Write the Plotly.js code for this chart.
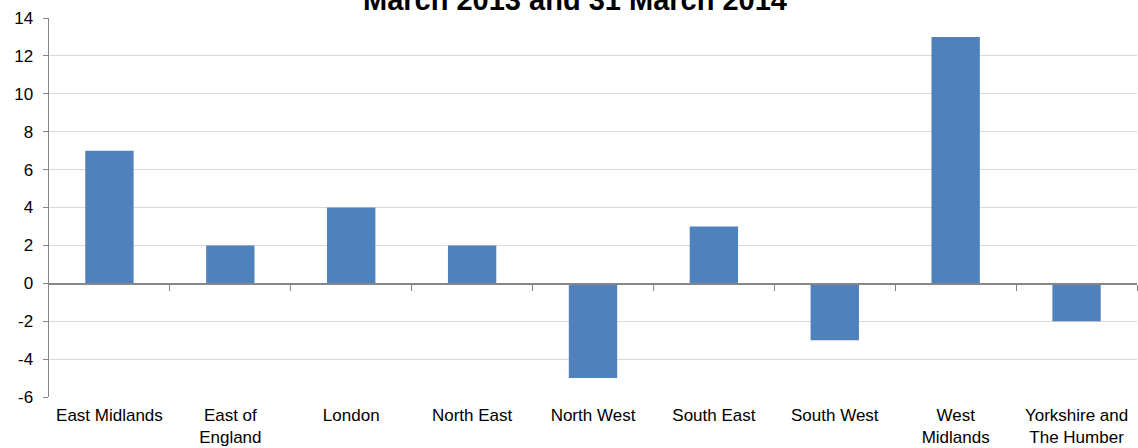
<!DOCTYPE html>
<html>
<head>
<meta charset="utf-8">
<script src="https://cdn.plot.ly/plotly-3.0.1.min.js"></script>
<style>html,body{margin:0;padding:0;background:#fff;}#chart{width:1138px;height:448px;}</style>
</head>
<body>
<div id="chart"></div>
<script>
var categories = ["East Midlands", "East of<br>England", "London", "North East", "North West", "South East", "South West", "West<br>Midlands", "Yorkshire and<br>The Humber"];
var values = [7, 2, 4, 2, -5, 3, -3, 13, -2];
var yTicks = [-6, -4, -2, 0, 2, 4, 6, 8, 10, 12, 14];
var titleText = "March 2013 and 31 March 2014";

var idx = categories.map(function(_, i){ return i; });
var boundaries = idx.map(function(i){ return i + 0.5; });

var traces = [
  {
    type: "bar",
    x: categories,
    y: values,
    marker: {color: "#4f81bd"},
    hoverinfo: "x+y"
  },
  {
    type: "scatter",
    x: [idx[0]],
    y: [0],
    xaxis: "x2",
    mode: "markers",
    marker: {opacity: 0},
    hoverinfo: "skip",
    showlegend: false
  }
];

var layout = {
  width: 1138,
  height: 448,
  margin: {l: 49, r: 1, t: 18, b: 51},
  paper_bgcolor: "#ffffff",
  plot_bgcolor: "#ffffff",
  showlegend: false,
  bargap: 0.6,
  font: {family: "Liberation Sans, Arial, sans-serif", size: 17, color: "#000"},
  xaxis: {
    type: "category",
    range: [-0.5, categories.length - 0.5],
    showgrid: false,
    showline: false,
    ticks: "",
    zeroline: false,
    ticklabelstandoff: 6,
    tickfont: {size: 17, color: "#000"},
    fixedrange: true
  },
  xaxis2: {
    overlaying: "x",
    anchor: "free",
    position: (0 - yTicks[0]) / (yTicks[yTicks.length - 1] - yTicks[0]),
    range: [-0.5, categories.length - 0.5],
    showline: true,
    linecolor: "#868686",
    linewidth: 1.5,
    ticks: "outside",
    ticklen: 6,
    tickcolor: "#868686",
    tickwidth: 1,
    tickvals: boundaries,
    showticklabels: false,
    showgrid: false,
    zeroline: false,
    fixedrange: true
  },
  yaxis: {
    range: [yTicks[0], yTicks[yTicks.length - 1]],
    tickvals: yTicks,
    ticktext: yTicks.map(String),
    showgrid: true,
    gridcolor: "#d9d9d9",
    gridwidth: 1,
    zeroline: false,
    showline: true,
    linecolor: "#868686",
    linewidth: 1.5,
    ticks: "outside",
    ticklen: 5,
    tickcolor: "#868686",
    ticklabelstandoff: 6,
    tickfont: {size: 17, color: "#000"},
    fixedrange: true
  },
  annotations: [
    {
      text: "<b>" + titleText + "</b>",
      xref: "paper",
      yref: "paper",
      x: 0.483,
      y: 1.0013,
      xanchor: "center",
      yanchor: "bottom",
      showarrow: false,
      font: {size: 29, color: "#000", family: "Liberation Sans, Arial, sans-serif"}
    }
  ]
};

Plotly.newPlot("chart", traces, layout, {displayModeBar: false, staticPlot: true});
</script>
</body>
</html>
